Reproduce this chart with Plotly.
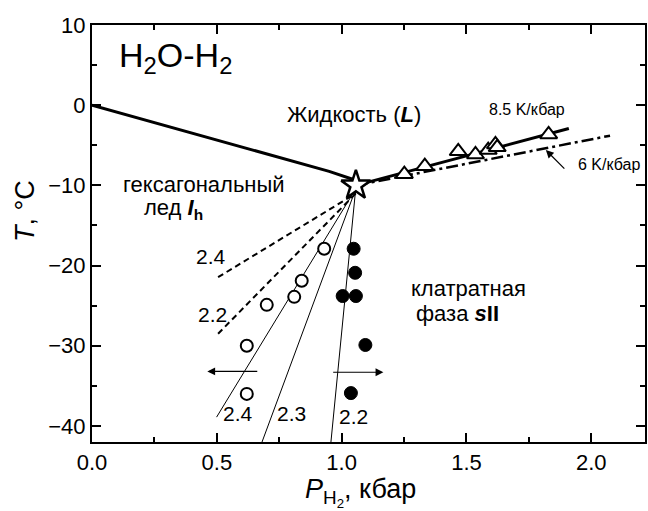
import plotly.graph_objects as go

FONT = "Arial, 'Liberation Sans', sans-serif"

# ---- data ----
melt_p = [0.0, 0.5, 0.95, 1.05]
melt_t = [0.0, -4.35, -8.25, -9.3]

line85_p = [1.057, 1.91]
line85_t = [-10.0, -2.9]

line6_p = [1.057, 2.075]
line6_t = [-10.0, -3.8]

tri_p = [1.251, 1.333, 1.467, 1.536, 1.587, 1.616, 1.623, 1.829]
tri_t = [-8.6, -7.6, -5.75, -6.15, -5.6, -4.9, -5.25, -3.65]

open_p = [0.62, 0.62, 0.70, 0.81, 0.84, 0.93]
open_t = [-30.0, -36.0, -24.9, -23.9, -21.9, -17.9]

full_p = [1.048, 1.054, 1.004, 1.057, 1.095, 1.037]
full_t = [-17.9, -20.9, -23.8, -23.8, -29.9, -35.9]

star_p = [1.057]
star_t = [-10.0]

dash24_p = [0.505, 1.057]
dash24_t = [-21.45, -11.0]
dash22_p = [0.505, 1.057]
dash22_t = [-28.5, -11.0]

thin24_p = [0.499, 1.057]
thin24_t = [-38.9, -10.4]
thin23_p = [0.681, 1.057]
thin23_t = [-42.0, -10.4]
thin22_p = [0.957, 1.057]
thin22_t = [-42.0, -10.2]

fig = go.Figure()

def line(x, y, w, dash="solid"):
    fig.add_trace(go.Scatter(x=x, y=y, mode="lines",
                             line=dict(color="black", width=w, dash=dash),
                             showlegend=False, hoverinfo="skip"))

line(melt_p, melt_t, 3)
line(line85_p, line85_t, 3)
line(line6_p, line6_t, 2.5, "12px,4px,3px,4px")
line(dash24_p, dash24_t, 2, "6px,4px")
line(dash22_p, dash22_t, 2, "6px,4px")
line(thin24_p, thin24_t, 1)
line(thin23_p, thin23_t, 1)
line(thin22_p, thin22_t, 1)

fig.add_trace(go.Scatter(x=tri_p, y=tri_t, mode="markers",
                         marker=dict(symbol="triangle-up", size=15, color="white",
                                     line=dict(color="black", width=2)),
                         showlegend=False))
fig.add_trace(go.Scatter(x=open_p, y=open_t, mode="markers",
                         marker=dict(symbol="circle", size=12, color="white",
                                     line=dict(color="black", width=2)),
                         showlegend=False))
fig.add_trace(go.Scatter(x=full_p, y=full_t, mode="markers",
                         marker=dict(symbol="circle", size=13, color="black",
                                     line=dict(color="black", width=1)),
                         showlegend=False))
fig.add_trace(go.Scatter(x=star_p, y=star_t, mode="markers",
                         marker=dict(symbol="star", size=22, color="white",
                                     line=dict(color="black", width=2.5)),
                         showlegend=False))

def txt(x, y, s, size, xanchor="left"):
    fig.add_annotation(x=x, y=y, xref="x", yref="y", text=s, showarrow=False,
                       xanchor=xanchor, yanchor="middle",
                       font=dict(family=FONT, size=size, color="black"))

txt(0.1, 5.9, "H<sub>2</sub>O-H<sub>2</sub>", 34)
txt(0.772, -1.2, "Жидкость (<b><i>L</i></b>)", 22)
txt(1.581, -0.55, "8.5 K/кбар", 16)
txt(1.937, -7.35, "6 K/кбар", 16)
txt(0.115, -9.9, "гексагональный", 22)
txt(0.2, -12.9, "лед <b><i>I</i></b><sub><b>h</b></sub>", 22)
txt(1.27, -22.8, "клатратная", 22)
txt(1.29, -26.0, "фаза <b><i>s</i>II</b>", 22)
txt(0.476, -18.9, "2.4", 21, "center")
txt(0.482, -26.1, "2.2", 21, "center")
txt(0.586, -38.4, "2.4", 21, "center")
txt(0.801, -38.4, "2.3", 21, "center")
txt(1.046, -38.85, "2.2", 21, "center")

def arrow(x0, y0, x1, y1):
    fig.add_annotation(x=x1, y=y1, ax=x0, ay=y0, xref="x", yref="y",
                       axref="x", ayref="y", text="", showarrow=True,
                       arrowhead=2, arrowsize=1.3, arrowwidth=1.2, arrowcolor="black")

arrow(0.668, -33.2, 0.462, -33.2)
arrow(0.960, -33.3, 1.167, -33.3)
arrow(1.898, -8.1, 1.818, -5.6)

# axis titles
fig.add_annotation(x=-0.121, y=0.554, xref="paper", yref="paper",
                   text="<i>T</i>, °C", showarrow=False, textangle=-90,
                   xanchor="center", yanchor="middle",
                   font=dict(family=FONT, size=27, color="black"))
fig.add_annotation(x=0.485, y=-0.122, xref="paper", yref="paper",
                   text="<i>P</i><sub>H<sub>2</sub></sub>, кбар", showarrow=False,
                   xanchor="center", yanchor="middle",
                   font=dict(family=FONT, size=27, color="black"))

axis_common = dict(showline=True, linewidth=2, linecolor="black", mirror="allticks",
                   ticks="inside", ticklen=9, tickwidth=2, tickcolor="black",
                   showgrid=False, zeroline=False,
                   tickfont=dict(family=FONT, size=22, color="black"))

fig.update_xaxes(range=[0, 2.215], dtick=0.5, tick0=0, tickformat=".1f",
                 minor=dict(dtick=0.25, ticks="inside", ticklen=5, tickwidth=2,
                            tickcolor="black", showgrid=False),
                 **axis_common)
fig.update_yaxes(range=[-42, 10], dtick=10, tick0=0,
                 minor=dict(dtick=5, ticks="inside", ticklen=5, tickwidth=2,
                            tickcolor="black", showgrid=False),
                 **axis_common)

fig.update_layout(width=648, height=511,
                  margin=dict(l=92, r=1, t=25, b=69),
                  plot_bgcolor="white", paper_bgcolor="white",
                  showlegend=False)

fig.write_html("out.html")
